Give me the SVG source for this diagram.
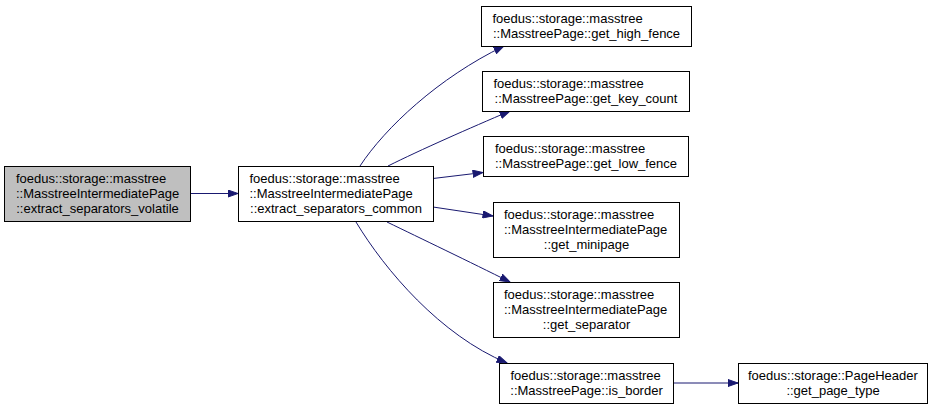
<svg xmlns="http://www.w3.org/2000/svg" width="935" height="409" viewBox="0 0 935 409">
<defs>
<marker id="arr" markerUnits="userSpaceOnUse" viewBox="0 0 11 8" refX="10.5" refY="4" markerWidth="11" markerHeight="8" orient="auto">
<path d="M0.5,0.5 L10.5,4 L0.5,7.5 z" fill="#191970" stroke="#191970" stroke-width="1"/>
</marker>
</defs>
<style>
rect{fill:#ffffff;stroke:#000000;stroke-width:1}
#n_volatile rect{fill:#bfbfbf}
text{font-family:"Liberation Sans",Arial,sans-serif;font-size:13px;fill:#000000}
.m{text-anchor:middle}
#edges path{fill:none;stroke:#191970;stroke-width:1;marker-end:url(#arr)}
</style>
<rect x="0" y="0" width="935" height="409" style="fill:#ffffff;stroke:none"/>
<g id="edges">
<path d="M190,193.5 L238,193.5"/>
<path d="M360,166 C385,128 438,78 504,46"/>
<path d="M388,166 C420,150 470,128 510,111"/>
<path d="M433,178.5 L483,172.5"/>
<path d="M433,207 L493,216"/>
<path d="M387,222 C420,238 470,262 510,282"/>
<path d="M356,222 C385,270 440,335 507,363"/>
<path d="M673,383 L738,383"/>
</g>
<g id="n_volatile">
<rect x="4.5" y="166.5" width="186" height="55"/>
<text x="16" y="183">foedus::storage::masstree</text>
<text x="16" y="198">::MasstreeIntermediatePage</text>
<text class="m" x="97.5" y="213">::extract_separators_volatile</text>
</g>
<g id="n_common">
<rect x="238.5" y="166.5" width="195" height="55"/>
<text x="249.5" y="183">foedus::storage::masstree</text>
<text x="249.5" y="198">::MasstreeIntermediatePage</text>
<text class="m" x="336" y="213">::extract_separators_common</text>
</g>
<g id="n_high_fence">
<rect x="481.5" y="6.5" width="210" height="40"/>
<text x="492.5" y="23">foedus::storage::masstree</text>
<text class="m" x="586.5" y="38">::MasstreePage::get_high_fence</text>
</g>
<g id="n_key_count">
<rect x="482.5" y="71.5" width="207" height="40"/>
<text x="493.5" y="88">foedus::storage::masstree</text>
<text class="m" x="586" y="103">::MasstreePage::get_key_count</text>
</g>
<g id="n_low_fence">
<rect x="483.5" y="136.5" width="205" height="40"/>
<text x="495" y="153">foedus::storage::masstree</text>
<text class="m" x="586" y="168">::MasstreePage::get_low_fence</text>
</g>
<g id="n_minipage">
<rect x="493.5" y="202.5" width="186" height="55"/>
<text x="504" y="219">foedus::storage::masstree</text>
<text x="504" y="234">::MasstreeIntermediatePage</text>
<text class="m" x="586.5" y="249">::get_minipage</text>
</g>
<g id="n_separator">
<rect x="493.5" y="282.5" width="186" height="55"/>
<text x="504" y="299">foedus::storage::masstree</text>
<text x="504" y="314">::MasstreeIntermediatePage</text>
<text class="m" x="586.5" y="329">::get_separator</text>
</g>
<g id="n_is_border">
<rect x="499.5" y="363.5" width="174" height="40"/>
<text x="510.5" y="380">foedus::storage::masstree</text>
<text class="m" x="586.5" y="395">::MasstreePage::is_border</text>
</g>
<g id="n_page_type">
<rect x="738.5" y="363.5" width="189" height="40"/>
<text x="748" y="380">foedus::storage::PageHeader</text>
<text class="m" x="833" y="395">::get_page_type</text>
</g>
</svg>
